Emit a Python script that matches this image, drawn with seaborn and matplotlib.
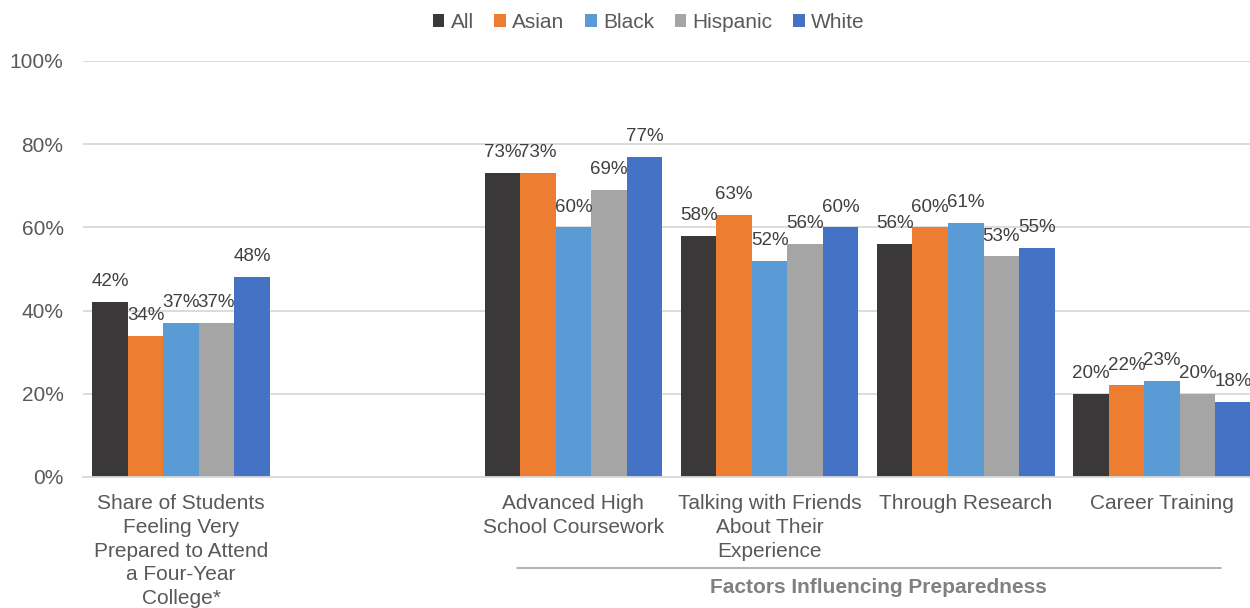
import matplotlib
matplotlib.use("Agg")
import matplotlib.pyplot as plt
from matplotlib.ticker import PercentFormatter
from matplotlib.patches import Patch
from matplotlib.lines import Line2D
import matplotlib.transforms as mtransforms
import pandas as pd
import seaborn as sns

# Survey categories (a blank slot separates the headline measure from the factors)
categories = [
    "Share of Students\nFeeling Very\nPrepared to Attend\na Four-Year\nCollege*",
    " ",
    "Advanced High\nSchool Coursework",
    "Talking with Friends\nAbout Their\nExperience",
    "Through Research",
    "Career Training",
]
groups = ["All", "Asian", "Black", "Hispanic", "White"]

# Percent of students, per group, for each non-blank category
all_students = [0.42, 0.73, 0.58, 0.56, 0.20]
asian = [0.34, 0.73, 0.63, 0.60, 0.22]
black = [0.37, 0.60, 0.52, 0.61, 0.23]
hispanic = [0.37, 0.69, 0.56, 0.53, 0.20]
white = [0.48, 0.77, 0.60, 0.55, 0.18]

colors = ["#3a3838", "#ed7d31", "#5b9bd5", "#a5a5a5", "#4472c4"]
group_label = "Factors Influencing Preparedness"

data_cats = [c for c in categories if c.strip()]
series = [all_students, asian, black, hispanic, white]
rows = []
for g, vals in zip(groups, series):
    for c, v in zip(data_cats, vals):
        rows.append({"category": c, "group": g, "value": v})
df = pd.DataFrame(rows)

sns.set_theme(style="white")
plt.rcParams["font.family"] = ["Liberation Sans", "DejaVu Sans"]

text_color = "#595959"
big = 15
fig = plt.figure(figsize=(12.5, 6.08), dpi=100)
ax = fig.add_axes([0.0664, 0.2155, 0.9416, 0.6842])

sns.barplot(
    data=df, x="category", y="value", hue="group",
    order=categories, hue_order=groups, palette=colors,
    width=0.905, linewidth=0, saturation=1, ax=ax, legend=False,
)

for container in ax.containers:
    ax.bar_label(
        container, labels=[f"{v * 100:.0f}%" for v in container.datavalues],
        padding=8.5, fontsize=13.5, color="#404040",
    )

ax.set_ylim(0, 1.0)
ax.set_xlim(-0.5, len(categories) - 0.5)
ax.set_yticks([0, 0.2, 0.4, 0.6, 0.8, 1.0])
ax.yaxis.set_major_formatter(PercentFormatter(1.0, decimals=0))
ax.yaxis.grid(True, color="#d9d9d9", linewidth=1.3)
ax.set_axisbelow(True)
for side in ["top", "right", "left"]:
    ax.spines[side].set_visible(False)
ax.spines["bottom"].set_color("#d9d9d9")
ax.spines["bottom"].set_linewidth(1.3)

ax.set_xlabel("")
ax.set_ylabel("")
ax.tick_params(axis="y", length=0, pad=14, labelsize=big, labelcolor=text_color)
ax.tick_params(axis="x", length=0, pad=12.5, labelsize=big, labelcolor=text_color)
ax.set_xticks(range(len(categories)))
ax.set_xticklabels(categories, linespacing=1.31)

# Bracket line and caption grouping the factor categories
trans = mtransforms.blended_transform_factory(ax.transData, ax.transAxes)
ax.add_line(Line2D([1.71, 5.30], [-0.219, -0.219], transform=trans,
                   color="#a6a6a6", linewidth=1.2, clip_on=False))
ax.text(3.555, -0.266, group_label, transform=trans, ha="center", va="center",
        fontsize=big, fontweight="bold", color="#808080")

handles = [Patch(facecolor=c, edgecolor="none", label=g) for g, c in zip(groups, colors)]
fig.legend(
    handles=handles, loc="center", bbox_to_anchor=(0.519, 0.963), ncol=5,
    frameon=False, fontsize=big, handlelength=0.55, handleheight=0.55,
    handletextpad=0.3, columnspacing=1.0, labelcolor=text_color,
)

fig.savefig("out.png", dpi=100)
